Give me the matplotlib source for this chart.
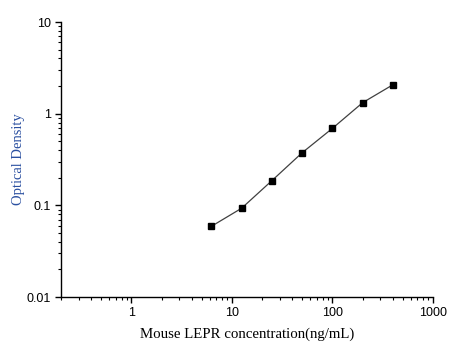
import matplotlib
matplotlib.use("Agg")
import matplotlib.pyplot as plt
from matplotlib.ticker import LogLocator, NullFormatter, FixedLocator, FixedFormatter

# standard curve data
conc = [6.25, 12.5, 25, 50, 100, 200, 400]
od = [0.059, 0.093, 0.186, 0.375, 0.692, 1.32, 2.07]

x_ticks = [1, 10, 100, 1000]
x_labels = ["1", "10", "100", "1000"]
y_ticks = [0.01, 0.1, 1, 10]
y_labels = ["0.01", "0.1", "1", "10"]

fig = plt.figure(figsize=(4.52, 3.56), dpi=100)
ax = fig.add_axes([0.135, 0.1657, 0.823, 0.7725])

ax.plot(conc, od, color="#404040", linewidth=0.9, zorder=2)
ax.plot(conc, od, linestyle="none", marker="s", markersize=4.4,
        color="black", zorder=3)

ax.set_xscale("log")
ax.set_yscale("log")
ax.set_xlim(0.2, 1000)
ax.set_ylim(0.01, 10)

ax.xaxis.set_major_locator(FixedLocator(x_ticks))
ax.xaxis.set_major_formatter(FixedFormatter(x_labels))
ax.yaxis.set_major_locator(FixedLocator(y_ticks))
ax.yaxis.set_major_formatter(FixedFormatter(y_labels))
ax.xaxis.set_minor_locator(LogLocator(base=10, subs=range(2, 10), numticks=20))
ax.yaxis.set_minor_locator(LogLocator(base=10, subs=range(2, 10), numticks=20))
ax.xaxis.set_minor_formatter(NullFormatter())
ax.yaxis.set_minor_formatter(NullFormatter())

for side in ["top", "right"]:
    ax.spines[side].set_visible(False)
for side in ["left", "bottom"]:
    ax.spines[side].set_linewidth(1.0)

ax.tick_params(which="major", direction="out", length=4, width=1,
               labelsize=9, pad=3)
ax.tick_params(which="minor", direction="out", length=2, width=0.8)
for lab in ax.get_xticklabels() + ax.get_yticklabels():
    lab.set_fontfamily("Liberation Sans")

ax.set_xlabel("Mouse LEPR concentration(ng/mL)", fontfamily="Liberation Serif",
              fontsize=10.7, labelpad=6)
ax.set_ylabel("Optical Density", fontfamily="Liberation Serif",
              fontsize=10.5, color="#2a4fa0", labelpad=1.5)

fig.savefig("out.png", dpi=100)
